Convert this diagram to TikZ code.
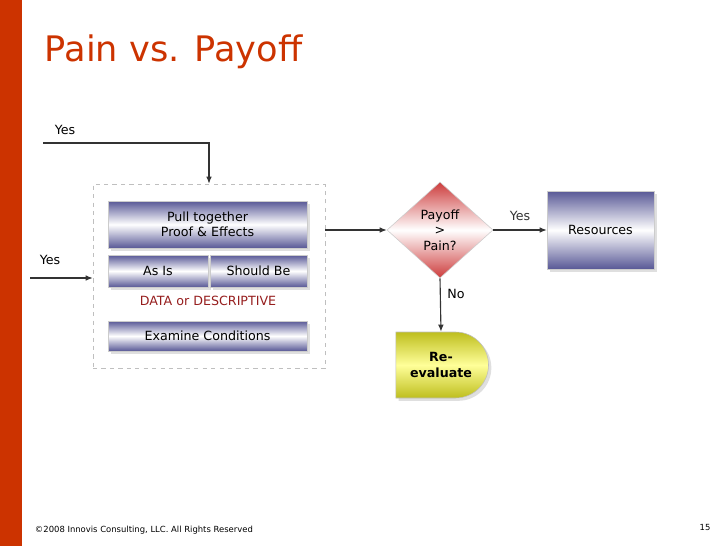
\documentclass[tikz,border=0pt]{standalone}
\usepackage{fontspec}
\setmainfont{DejaVu Sans}
\usetikzlibrary{shapes.geometric,shapes.misc,shadows,arrows.meta}
\definecolor{barorange}{RGB}{204,51,0}
\definecolor{boxblue}{RGB}{88,88,150}
\definecolor{diared}{RGB}{205,60,60}
\definecolor{olive}{RGB}{190,190,30}
\definecolor{darkred}{RGB}{150,30,30}

\tikzset{
  stepbox/.style={rectangle, draw=gray!40, top color=boxblue, bottom color=boxblue,
    middle color=white, drop shadow={shadow xshift=2pt, shadow yshift=-2pt, fill=gray!50},
    font=\fontsize{9}{11}\selectfont, align=center, inner sep=0pt},
  flow/.style={-{Latex[length=5pt,width=4pt]}, thick, black!80},
  lbl/.style={font=\fontsize{9}{11}\selectfont}
}

\begin{document}
\begin{tikzpicture}[x=0.025cm, y=-0.025cm]
      \useasboundingbox (0,0) rectangle (728,546);
      \fill[barorange] (0,0) rectangle (22,546);
      \node (title) [anchor=west, text=barorange, font=\fontsize{25}{30}\selectfont] at (40,52) {Pain vs. Payoff};

      % grouped steps
      \node (group) [rectangle, draw=gray!50, dashed, minimum width=232*0.025cm, minimum height=184*0.025cm] at (209,276) {};
      \node (pull) [stepbox, minimum width=199*0.025cm, minimum height=47*0.025cm] at (207.5,224.5) {Pull together\\Proof \& Effects};
      \node (asis) [stepbox, minimum width=100*0.025cm, minimum height=32*0.025cm] at (158,271) {As Is};
      \node (should) [stepbox, minimum width=97*0.025cm, minimum height=32*0.025cm] at (258.5,271) {Should Be};
      \node (data) [lbl, text=darkred] at (208,301) {DATA or DESCRIPTIVE};
      \node (examine) [stepbox, minimum width=199*0.025cm, minimum height=30*0.025cm] at (207.5,336) {Examine Conditions};

      % decision
      \node (payoff) [diamond, draw=gray!40, top color=diared, bottom color=diared, middle color=white,
        minimum width=106*0.025cm, minimum height=96*0.025cm, inner sep=0pt, align=center,
        font=\fontsize{9}{11}\selectfont] at (440,230) {Payoff\\>\\Pain?};
      \node (res) [stepbox, minimum width=107*0.025cm, minimum height=78*0.025cm] at (600.5,230) {Resources};
      \node (reeval) [rounded rectangle, rounded rectangle left arc=none, draw=gray!50,
        top color=olive, bottom color=olive, middle color=yellow!40, drop shadow={shadow xshift=2pt, shadow yshift=-2pt, fill=gray!50},
        minimum width=102*0.025cm, minimum height=66*0.025cm, align=center,
        font=\bfseries\fontsize{9}{11}\selectfont] at (441,365) {Re-\\evaluate};

      % connectors
      \coordinate (topin) at (43,143);
      \coordinate (leftin) at (30,278);
      \draw[flow] (topin) -| (group.north);
      \node (yes1) [lbl] at (65,130) {Yes};
      \draw[flow] (leftin) -- (group.west |- leftin);
      \node (yes2) [lbl] at (50,260) {Yes};
      \draw[flow] (group.east |- payoff) -- (payoff.west);
      \draw[flow] (payoff.east) -- (res.west) node [lbl, midway, above=3pt] {Yes};
      \node (no) [lbl] at (456,294) {No};
      \draw[flow] (payoff.south) -- (reeval.north);

      % footer
      \node (copy) [anchor=west, font=\fontsize{6}{7}\selectfont] at (30,530) {©2008 Innovis Consulting, LLC. All Rights Reserved};
      \node (page) [font=\fontsize{6}{7}\selectfont] at (705,527) {15};
    \end{tikzpicture}
\end{document}
